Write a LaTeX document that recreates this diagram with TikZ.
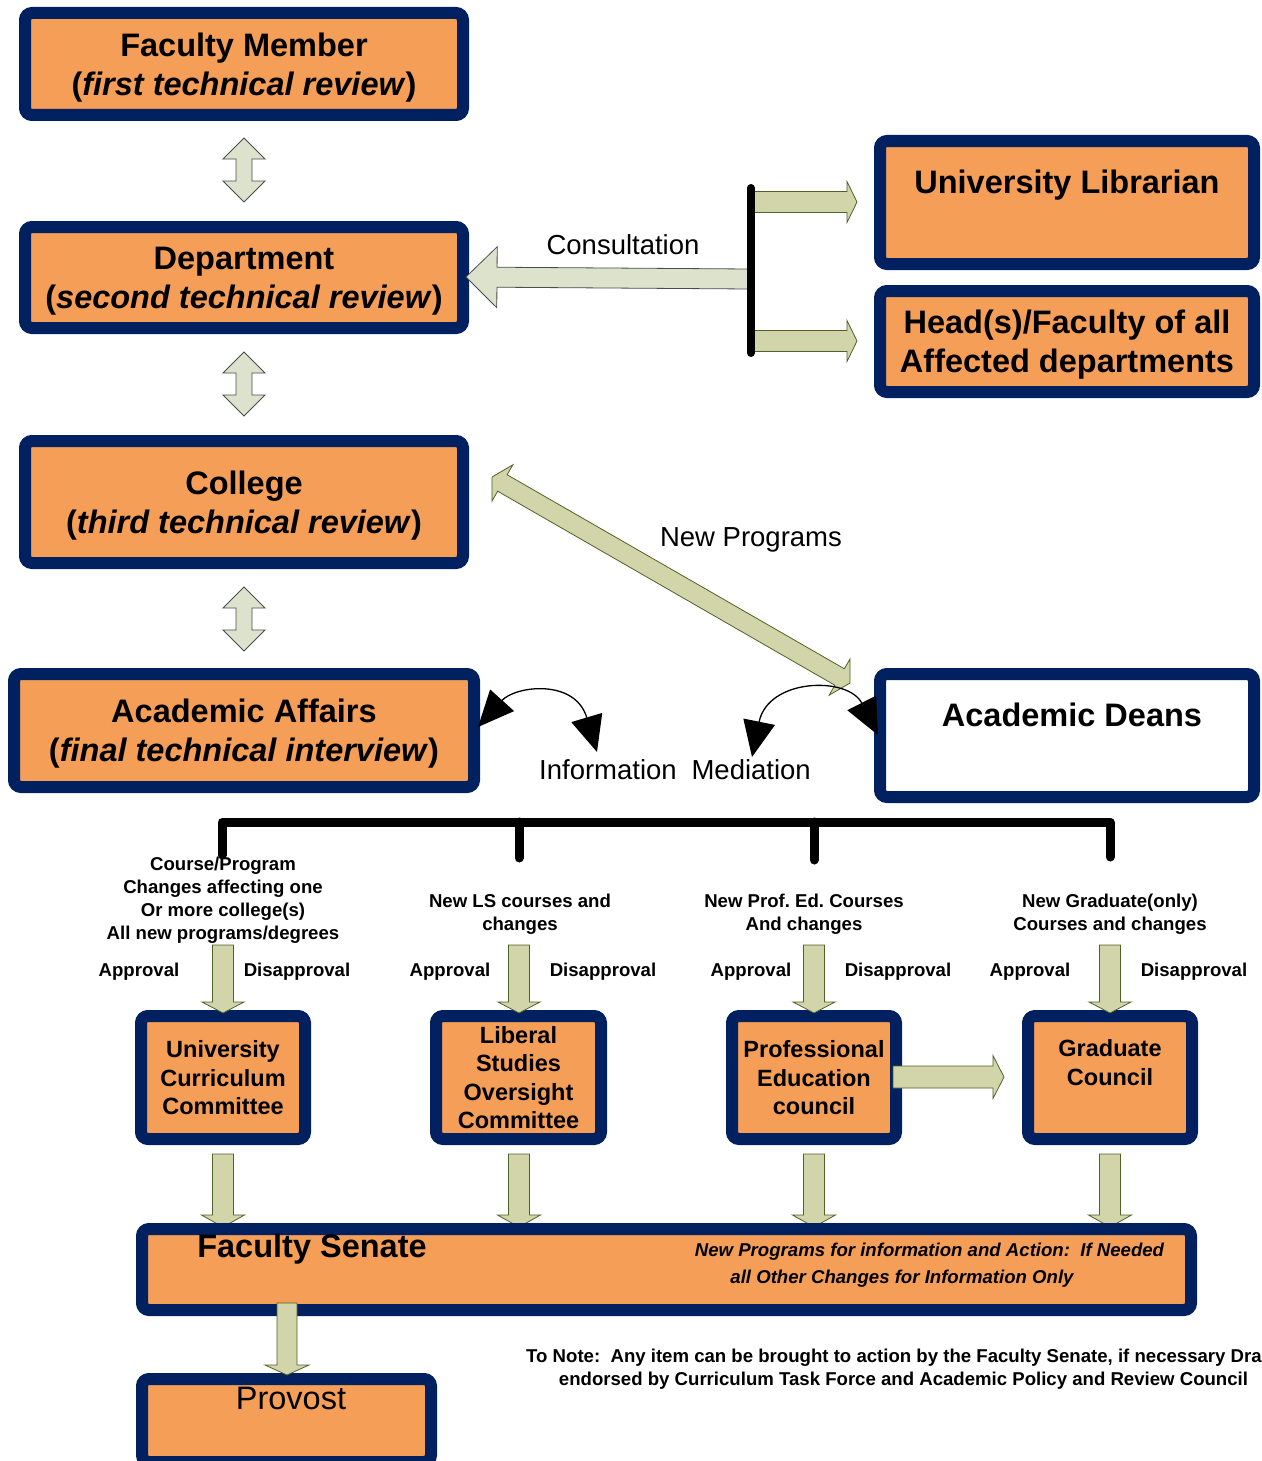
\documentclass[tikz,border=0pt]{standalone}
\usepackage{fontspec}
\setmainfont{Liberation Sans}
\usetikzlibrary{calc,arrows.meta}
\definecolor{navy}{RGB}{0,32,96}
\definecolor{boxorange}{RGB}{245,158,88}
\definecolor{khaki}{RGB}{210,212,170}
\definecolor{palegreen}{RGB}{221,226,204}
\definecolor{arrline}{RGB}{79,98,40}
\frenchspacing
\newcommand\bigfont{\fontsize{32.5pt}{39pt}\selectfont\bfseries}
\newcommand\midfont{\fontsize{23.5pt}{28.5pt}\selectfont\bfseries}
\newcommand\smallfont{\fontsize{18.6pt}{23pt}\selectfont\bfseries}
\newcommand\plainfont{\fontsize{27.5pt}{33pt}\selectfont}
% single-headed block arrow: style, start, end, half shaft, half head, head length
\newcommand\blockarr[6]{%
  \coordinate (ba-s) at #2; \coordinate (ba-e) at #3;
  \coordinate (ba-b) at ($(ba-e)!#6!(ba-s)$);
  \draw[#1] ($(ba-s)!#4!90:(ba-e)$) -- ($(ba-b)!#4!90:(ba-e)$) -- ($(ba-b)!#5!90:(ba-e)$)
    -- (ba-e) -- ($(ba-b)!#5!-90:(ba-e)$) -- ($(ba-b)!#4!-90:(ba-e)$)
    -- ($(ba-s)!#4!-90:(ba-e)$) -- cycle;}
% double-headed block arrow
\newcommand\dblarr[6]{%
  \coordinate (da-s) at #2; \coordinate (da-e) at #3;
  \coordinate (da-b1) at ($(da-s)!#6!(da-e)$);
  \coordinate (da-b2) at ($(da-e)!#6!(da-s)$);
  \draw[#1] (da-s) -- ($(da-b1)!#5!90:(da-e)$) -- ($(da-b1)!#4!90:(da-e)$)
    -- ($(da-b2)!#4!90:(da-e)$) -- ($(da-b2)!#5!90:(da-e)$) -- (da-e)
    -- ($(da-b2)!#5!-90:(da-e)$) -- ($(da-b2)!#4!-90:(da-e)$)
    -- ($(da-b1)!#4!-90:(da-e)$) -- ($(da-b1)!#5!-90:(da-e)$) -- cycle;}
\begin{document}
\begin{tikzpicture}[x=1pt,y=-1pt,
  box/.style={draw=navy, line width=12pt, fill=boxorange, rounded corners=7pt,
    inner sep=0pt, align=center, text depth=0pt, font=\bigfont},
  txt/.style={inner sep=0pt, align=center, text depth=0pt},
  karr/.style={fill=khaki, draw=arrline, line width=0.8pt, line join=miter},
  larr/.style={fill=palegreen, draw=black!70, line width=0.8pt, line join=miter},
  curv/.style={line width=1.3pt, {Triangle[length=36pt,width=32pt]}-{Triangle[length=36pt,width=32pt]}},
  bar/.style={line width=9pt, line cap=round, line join=round}]
\useasboundingbox (0,0) rectangle (1261,1461);
\clip (0,0) rectangle (1261,1461);

% ---------- left column boxes ----------
\node[box, minimum width=438pt, minimum height=102pt] (fm) at (244,64)
  {Faculty Member\\(\textit{first technical review})};
\node[box, minimum width=438pt, minimum height=101pt] (dept) at (244,277.5)
  {Department\\(\textit{second technical review})};
\node[box, minimum width=438pt, minimum height=122pt] (col) at (244,502)
  {College\\(\textit{third technical review})};
\node[box, minimum width=460pt, minimum height=113pt] (aa) at (244,730.5)
  {Academic Affairs\\(\textit{final technical interview})};

% ---------- right column boxes ----------
\node[box, minimum width=374pt, minimum height=123pt] (ul) at (1067,202.5) {};
\node[txt, font=\bigfont] (ul-t) at (1067,182) {University Librarian};
\node[box, minimum width=374pt, minimum height=101pt] (head) at (1067,341.5)
  {Head(s)/Faculty of all\\Affected departments};
\node[box, fill=white, minimum width=374pt, minimum height=123pt] (deans) at (1067,735.5) {};
\node[txt, font=\bigfont] (deans-t) at (1072,715) {Academic Deans};

% ---------- vertical double arrows ----------
\coordinate (d1s) at (244,138); \coordinate (d1e) at (244,202);
\dblarr{larr}{(d1s)}{(d1e)}{8pt}{21pt}{21pt}
\coordinate (d2s) at (244,352); \coordinate (d2e) at (244,416);
\dblarr{larr}{(d2s)}{(d2e)}{8pt}{21pt}{21pt}
\coordinate (d3s) at (244,587); \coordinate (d3e) at (244,651);
\dblarr{larr}{(d3s)}{(d3e)}{8pt}{21pt}{21pt}

% ---------- consultation ----------
\coordinate (cs) at (749,279); \coordinate (ce) at (466,277);
\blockarr{larr}{(cs)}{(ce)}{10pt}{30.5pt}{31pt}
\coordinate (r1s) at (751,202); \coordinate (r1e) at (857,202);
\blockarr{karr}{(r1s)}{(r1e)}{10.5pt}{20.5pt}{10pt}
\coordinate (r2s) at (751,341); \coordinate (r2e) at (857,341);
\blockarr{karr}{(r2s)}{(r2e)}{10.5pt}{20.5pt}{10pt}
\coordinate (vb1) at (751,188); \coordinate (vb2) at (751,353);
\draw[line width=8pt, line cap=round] (vb1) -- (vb2);
\node[txt, font=\plainfont] (cons) at (623,245) {Consultation};

% ---------- new programs ----------
\coordinate (nps) at (492,477); \coordinate (npe) at (850,683);
\dblarr{karr}{(nps)}{(npe)}{9.5pt}{21pt}{12pt}
\node[txt, font=\plainfont] (np) at (751,537) {New Programs};

% ---------- information mediation ----------
\coordinate (c1a) at (478,727); \coordinate (c1b) at (597,752);
\draw[curv] (c1a) .. controls (515,686) and (575,678) .. (c1b);
\coordinate (c2a) at (752,757); \coordinate (c2b) at (878,735);
\draw[curv] (c2a) .. controls (768,678) and (848,676) .. (c2b);
\node[txt, font=\plainfont, anchor=west] (info) at (539,770) {Information};
\node[txt, font=\plainfont, anchor=east] (medi) at (811,770) {Mediation};

% ---------- bracket ----------
\coordinate (bk1) at (222,855); \coordinate (bk2) at (222,822);
\coordinate (bk3) at (1110,822); \coordinate (bk4) at (1110,857);
\coordinate (bk5) at (519,822); \coordinate (bk6) at (519,858);
\coordinate (bk7) at (814,822); \coordinate (bk8) at (814,860);
\draw[bar] (bk1) -- (bk2) -- (bk3) -- (bk4);
\draw[bar] (bk5) -- (bk6);
\draw[bar] (bk7) -- (bk8);

% ---------- labels ----------
\node[txt, font=\smallfont] (lab1) at (223,898.5)
  {Course/Program\\Changes affecting one\\Or more college(s)\\All new programs/degrees};
\node[txt, font=\smallfont] (lab2) at (520,912.5) {New LS courses and\\changes};
\node[txt, font=\smallfont] (lab3) at (804,912.5) {New Prof. Ed. Courses\\And changes};
\node[txt, font=\smallfont] (lab4) at (1110,912.5) {New Graduate(only)\\Courses and changes};
\foreach \ax/\dx [count=\i] in {139/297, 450/603, 751/898, 1030/1194} {
  \node[txt, font=\smallfont] (ap\i) at (\ax,970) {Approval};
  \node[txt, font=\smallfont] (dp\i) at (\dx,970) {Disapproval};
}

% ---------- committee boxes ----------
\node[box, font=\midfont, minimum width=164pt, minimum height=123pt] (ucc) at (223,1077.5)
  {University\\Curriculum\\Committee};
\node[box, font=\midfont, minimum width=165pt, minimum height=123pt] (ls) at (518.5,1077.5)
  {Liberal\\Studies\\Oversight\\Committee};
\node[box, font=\midfont, minimum width=164pt, minimum height=123pt] (pec) at (814,1077.5)
  {Professional\\Education\\council};
\node[box, font=\midfont, minimum width=164pt, minimum height=123pt] (gc) at (1110,1077.5) {};
\node[txt, font=\midfont] (gc-t) at (1110,1062.5) {Graduate\\Council};

% ---------- arrows into committees ----------
\foreach \cx [count=\i] in {223,519,814,1110} {
  \coordinate (ua\i) at (\cx,945); \coordinate (ub\i) at (\cx,1013);
  \blockarr{karr}{(ua\i)}{(ub\i)}{10.5pt}{21pt}{11pt}
  \coordinate (la\i) at (\cx,1154); \coordinate (lb\i) at (\cx,1227);
  \blockarr{karr}{(la\i)}{(lb\i)}{10.5pt}{21.5pt}{12pt}
}
\coordinate (pg1) at (893,1077); \coordinate (pg2) at (1004,1077);
\blockarr{karr}{(pg1)}{(pg2)}{11pt}{21.5pt}{11pt}

% ---------- faculty senate ----------
\node[box, minimum width=1049pt, minimum height=81pt] (fs) at (666.5,1269.5) {};
\node[txt, font=\bigfont] (fs-t) at (312,1246) {Faculty Senate};
\node[txt, font=\smallfont\itshape] (fs-n1) at (929.5,1250)
  {New Programs for information and Action:\ \ If Needed};
\node[txt, font=\smallfont\itshape] (fs-n2) at (902,1277)
  {all Other Changes for Information Only};

% ---------- provost ----------
\node[box, minimum width=289pt, minimum height=83pt] (prov) at (286.5,1420.5) {};
\coordinate (fp1) at (287,1303); \coordinate (fp2) at (287,1375);
\blockarr{karr}{(fp1)}{(fp2)}{10pt}{22pt}{10pt}
\node[txt, font=\fontsize{32.5pt}{39pt}\selectfont] (prov-t) at (291,1398) {Provost};

% ---------- note ----------
\node[txt, font=\smallfont, anchor=west] (note1) at (526,1356)
  {To Note:\ \ Any item can be brought to action by the Faculty Senate, if necessary Dra};
\node[txt, font=\smallfont] (note2) at (903.5,1379)
  {endorsed by Curriculum Task Force and Academic Policy and Review Council};
\end{tikzpicture}
\end{document}
